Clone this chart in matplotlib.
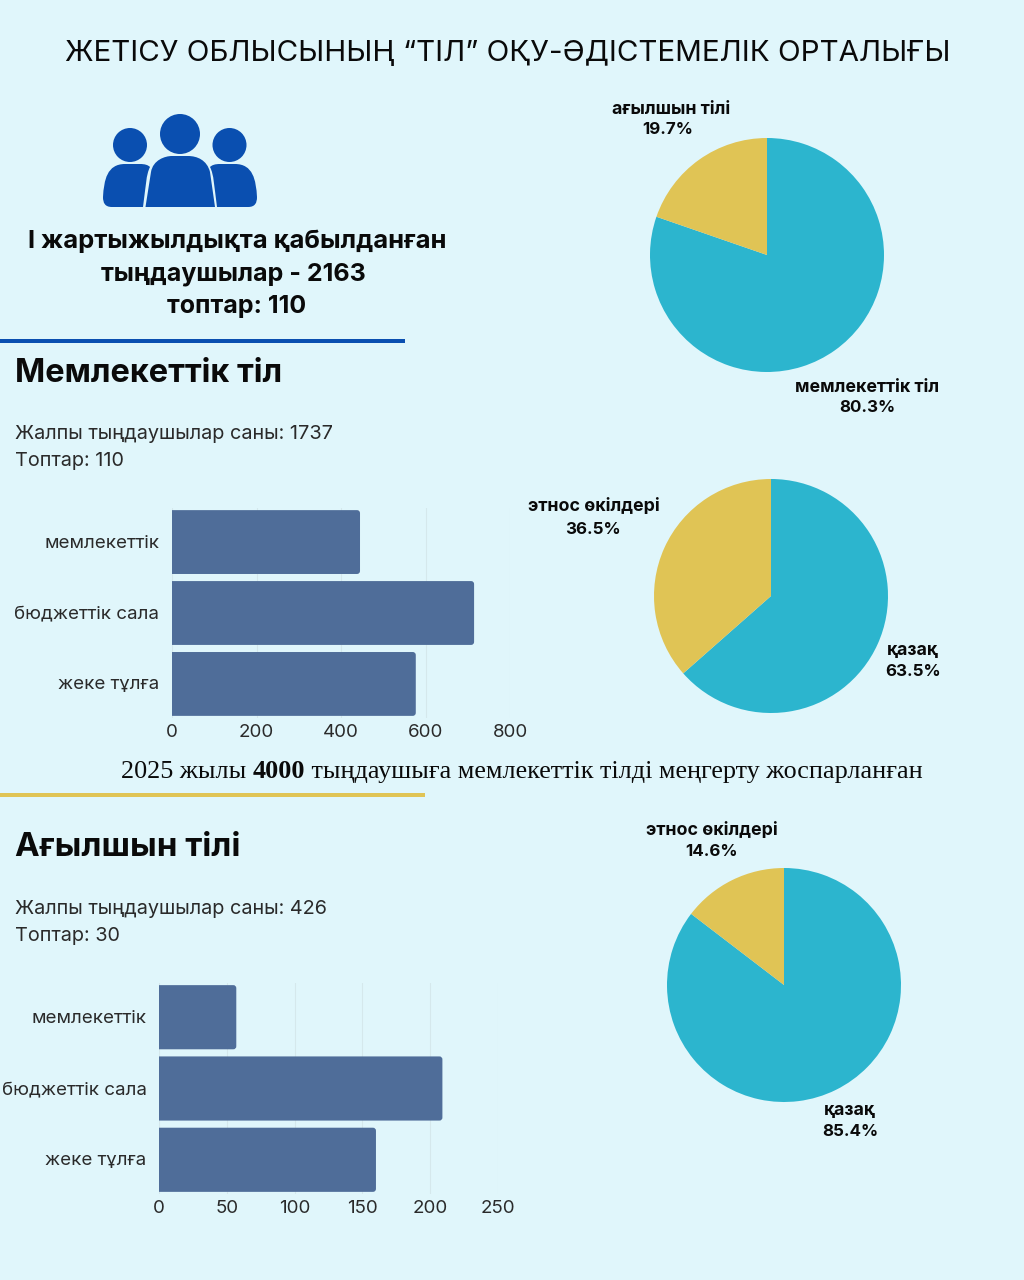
import matplotlib
matplotlib.use('Agg')
import matplotlib.pyplot as plt
from matplotlib.patches import Circle, FancyBboxPatch, PathPatch, Rectangle
from matplotlib.path import Path
from matplotlib.transforms import IdentityTransform, ScaledTranslation

# Деректер
categories = ['мемлекеттік', 'бюджеттік сала', 'жеке тұлға']
state_counts = [445, 715, 577]
state_ticks = [0, 200, 400, 600, 800]
english_counts = [57, 209, 160]
english_ticks = [0, 50, 100, 150, 200, 250]

lang_labels = ['мемлекеттік тіл', 'ағылшын тілі']
lang_share = [80.3, 19.7]
state_eth_labels = ['қазақ', 'этнос өкілдері']
state_eth_share = [63.5, 36.5]
english_eth_labels = ['қазақ', 'этнос өкілдері']
english_eth_share = [85.4, 14.6]

BG = '#E0F6FB'
BAR = '#4F6D99'
TEAL = '#2CB5CE'
YELLOW = '#E0C455'
BLUE = '#0A4FB0'
INK = '#0A0A0A'
FONT = ['Inter', 'DejaVu Sans']
SERIF = ['Liberation Serif', 'DejaVu Serif']
plt.rcParams['font.family'] = FONT

W, H = 1024, 1280
fig = plt.figure(figsize=(W / 100, H / 100), dpi=100, facecolor=BG)


def px_axes(left, top, right, bottom, **kw):
    return fig.add_axes([left / W, 1 - bottom / H, (right - left) / W, (bottom - top) / H], **kw)


# Фон үстіндегі сызбалар мен мәтіндер үшін пиксельдік қабат
ov = fig.add_axes([0, 0, 1, 1], zorder=5)
ov.set_xlim(0, W)
ov.set_ylim(H, 0)
ov.axis('off')
ov.patch.set_alpha(0)


def label(x, y, s, size, weight='normal', ha='center', color=INK, family=None):
    return ov.text(x, y, s, fontsize=size, fontweight=weight, ha=ha, va='center',
                   color=color, family=family or FONT)


def draw_bars(ax_box, values, ticks):
    left, right, top, bottom = ax_box
    ax = px_axes(left, top - 2, right, bottom + 2)
    ax.set_facecolor('none')
    ypos = list(range(len(values)))
    bars = ax.barh(ypos, values, height=0.9, color=BAR, zorder=3)
    ax.set_xlim(ticks[0], ticks[-1])
    ax.set_ylim(2.48, -0.48)
    ax.set_yticks(ypos, categories)
    ax.set_xticks(ticks)
    ax.tick_params(length=0, labelsize=13.5, labelcolor='#2A2A2A')
    ax.tick_params(axis='x', pad=4.5)
    ax.tick_params(axis='y', pad=9)
    up = ScaledTranslation(0, 1 / 100, fig.dpi_scale_trans)
    for t in ax.get_yticklabels():
        t.set_va('center_baseline')
        t.set_transform(t.get_transform() + up)
    ax.grid(axis='x', color='#D5E8EC', linewidth=0.8, zorder=0)
    for s in ax.spines.values():
        s.set_visible(False)
    # Баған ұштарын дөңгелектеу
    for b in bars:
        x0, y0 = ax.transData.transform((b.get_x(), b.get_y()))
        x1, y1 = ax.transData.transform((b.get_x() + b.get_width(), b.get_y() + b.get_height()))
        y0, y1 = min(y0, y1), max(y0, y1)
        rad = 3
        box = FancyBboxPatch((x0 - 8 + rad, y0 + rad), x1 - x0 + 8 - 2 * rad, y1 - y0 - 2 * rad,
                             boxstyle=f'round,pad={rad},rounding_size={rad}',
                             transform=IdentityTransform(), facecolor=BAR, edgecolor='none', zorder=3)
        ax.add_patch(box)
        box.set_clip_path(ax.patch)
        b.set_visible(False)
    return ax


def draw_pie(cx, cy, r, share):
    ax = px_axes(cx - r, cy - r, cx + r, cy + r)
    ax.pie(share, colors=[TEAL, YELLOW], startangle=90, counterclock=False, radius=1)
    ax.set_xlim(-1, 1)
    ax.set_ylim(-1, 1)
    ax.set_aspect('equal')
    return ax


# Тақырып
label(508, 53, 'ЖЕТІСУ ОБЛЫСЫНЫҢ “ТІЛ” ОҚУ-ӘДІСТЕМЕЛІК ОРТАЛЫҒЫ', 21.3)

# Адамдар белгісі
for cx, cy, r in [(130, 145, 17), (180, 134, 20), (229.5, 145, 17)]:
    ov.add_patch(Circle((cx, cy), r, color=BLUE, lw=0))
C4 = Path.CURVE4
ov.add_patch(PathPatch(Path(
    [(145.5, 207), (151, 172), (153, 160), (165, 156), (172, 156), (188, 156), (197, 156), (207, 160),
     (210, 172), (215, 207), (145.5, 207)],
    [Path.MOVETO, Path.LINETO, C4, C4, C4, Path.LINETO, C4, C4, C4, Path.LINETO, Path.CLOSEPOLY]),
    color=BLUE, lw=0))
side_x = [143, 112, 105, 103, 103, 104, 107, 125, 140, 145, 148, 150, 146, 146, 143, 143]
side_y = [207, 207, 207, 203, 197, 180, 164, 164, 164, 164, 165, 167, 175, 185, 207, 207]
side_codes = [Path.MOVETO, Path.LINETO, C4, C4, C4, C4, C4, C4, Path.LINETO, C4, C4, C4, C4, C4, C4,
              Path.CLOSEPOLY]
ov.add_patch(PathPatch(Path(list(zip(side_x, side_y)), side_codes), color=BLUE, lw=0))
ov.add_patch(PathPatch(Path([(360 - x, y) for x, y in zip(side_x, side_y)], side_codes), color=BLUE, lw=0))

label(237, 241, 'І жартыжылдықта қабылданған', 18.4, 'bold')
label(233, 274, 'тыңдаушылар - 2163', 18, 'bold')
label(237, 307, 'топтар: 110', 18, 'bold')

# Бөлгіш сызықтар
ov.add_patch(Rectangle((0, 339), 405, 4, color=BLUE, lw=0))
ov.add_patch(Rectangle((0, 793), 425, 4, color=YELLOW, lw=0))

# Мемлекеттік тіл
label(15, 373, 'Мемлекеттік тіл', 23.4, 'bold', ha='left')
label(15, 434, 'Жалпы тыңдаушылар саны: 1737', 14.3, ha='left', color='#2A2A2A')
label(15, 461, 'Топтар: 110', 14.3, ha='left', color='#2A2A2A')
draw_bars((172, 510, 510, 716), state_counts, state_ticks)

# Жоспар жолы: үш бөлік, ортасы қалың
fig.canvas.draw()
renderer = fig.canvas.get_renderer()
x_cur = 121
plan_size = 18.8
for part, wt in [('2025 жылы ', 'normal'), ('4000', 'bold'),
                 (' тыңдаушыға мемлекеттік тілді меңгерту жоспарланған', 'normal')]:
    t = ov.text(x_cur, 772, part, fontsize=plan_size, fontweight=wt, ha='left', va='center',
                color=INK, family=SERIF)
    t.set_parse_math(False)
    # бос орындарды есепке алу үшін ені шет таңбамен өлшенеді
    probe = ov.text(0, 0, '|' + part + '|', fontsize=plan_size, fontweight=wt, family=SERIF)
    bar_probe = ov.text(0, 0, '||', fontsize=plan_size, fontweight=wt, family=SERIF)
    x_cur += probe.get_window_extent(renderer).width - bar_probe.get_window_extent(renderer).width
    probe.remove()
    bar_probe.remove()

# Ағылшын тілі
label(15, 848, 'Ағылшын тілі', 23.8, 'bold', ha='left')
label(15, 909, 'Жалпы тыңдаушылар саны: 426', 14.3, ha='left', color='#2A2A2A')
label(15, 936, 'Топтар: 30', 14.3, ha='left', color='#2A2A2A')
draw_bars((159, 498, 985, 1192), english_counts, english_ticks)

# Дөңгелек диаграммалар
draw_pie(767, 255, 117, lang_share)
draw_pie(771, 596, 117, state_eth_share)
draw_pie(784, 985, 117, english_eth_share)

pie_size = 12.8
label(867, 388, lang_labels[0], pie_size, 'bold')
label(867, 408, f'{lang_share[0]}%', 12.2, 'bold')
label(671, 109, lang_labels[1], pie_size, 'bold')
label(668, 129, f'{lang_share[1]}%', 12.2, 'bold')
label(913, 650, state_eth_labels[0], pie_size, 'bold')
label(913, 671, f'{state_eth_share[0]}%', 12.2, 'bold')
label(594, 507, state_eth_labels[1], pie_size, 'bold')
label(593, 529, f'{state_eth_share[1]}%', 12.2, 'bold')
label(850, 1110, english_eth_labels[0], pie_size, 'bold')
label(850, 1131, f'{english_eth_share[0]}%', 12.2, 'bold')
label(712, 830, english_eth_labels[1], pie_size, 'bold')
label(712, 852, f'{english_eth_share[1]}%', 12.2, 'bold')

fig.savefig('out.png', dpi=100, facecolor=BG)
